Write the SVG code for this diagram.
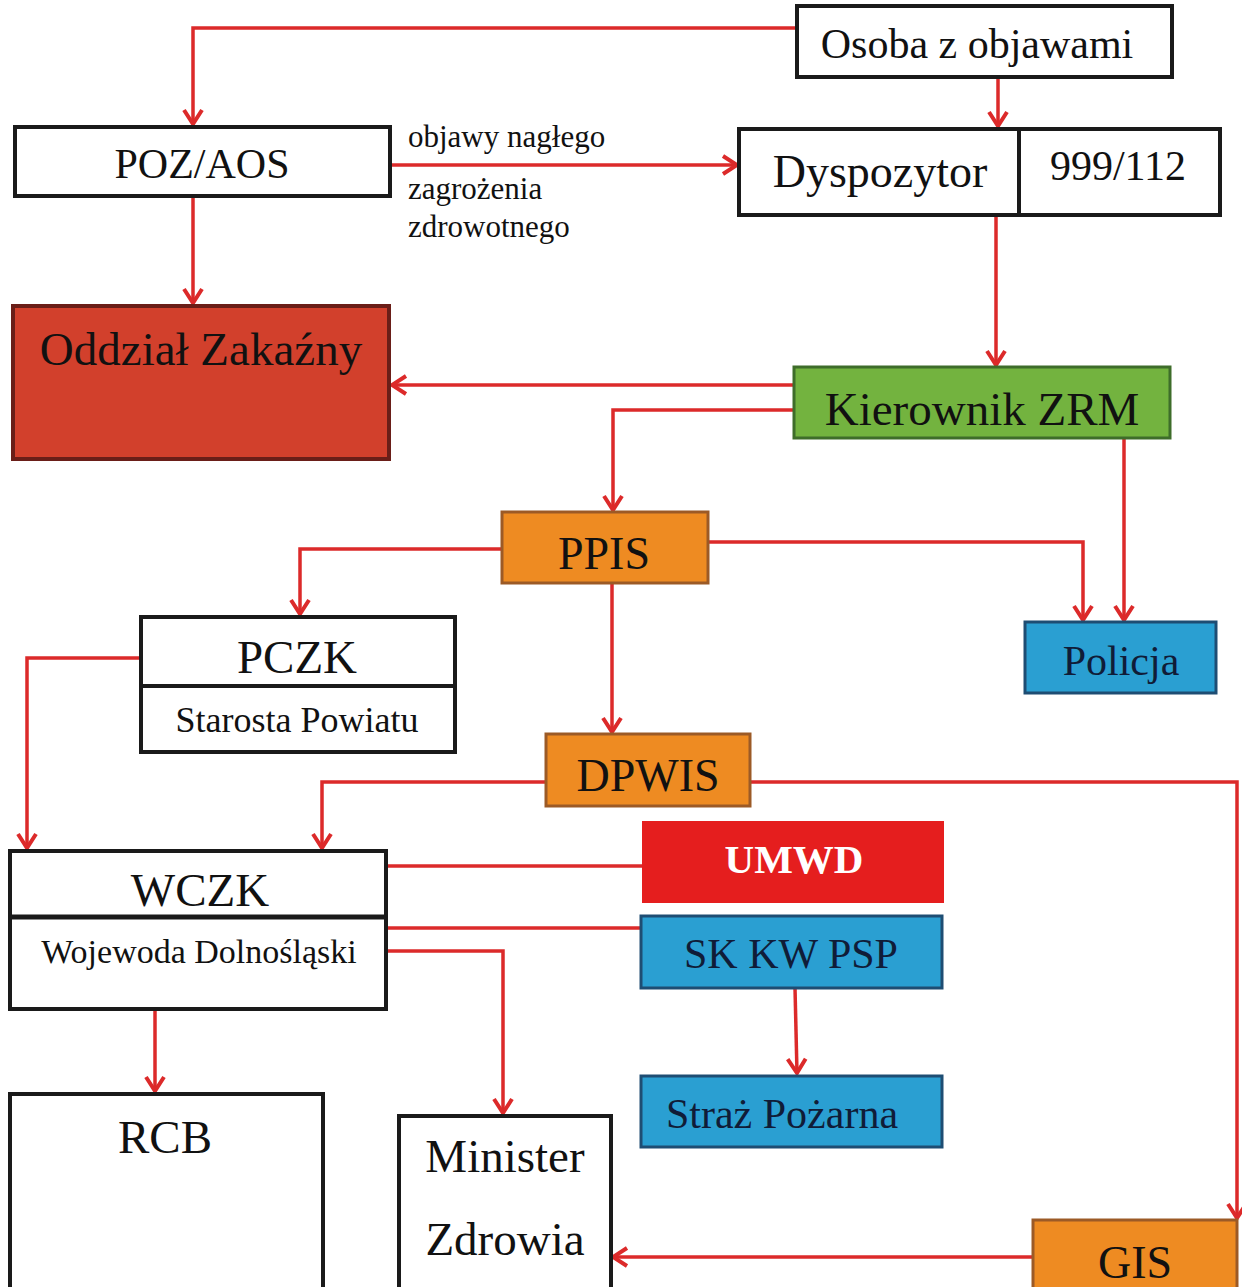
<svg xmlns="http://www.w3.org/2000/svg" width="1242" height="1287" viewBox="0 0 1242 1287">
<style>
.t{font-family:"Liberation Serif","Times New Roman",serif;fill:#111;text-anchor:middle}
.wb{fill:#fff;stroke:#1a1a1a;stroke-width:4}
.c{fill:none;stroke:#dc2a2a;stroke-width:3.5}
.orange{fill:#ee8b22;stroke:#9c5a26;stroke-width:3}
.blue{fill:#2a9fd2;stroke:#1e4d73;stroke-width:3}
.nv{fill:#101c38}
</style>
<defs>
<marker id="ah" markerUnits="userSpaceOnUse" viewBox="0 0 18 22" refX="16" refY="11" markerWidth="18" markerHeight="22" orient="auto">
<path d="M2,2 L16,11 L2,20" fill="none" stroke="#dc2a2a" stroke-width="4" stroke-linejoin="miter"/>
</marker>
</defs>
<rect width="1242" height="1287" fill="#fff"/>
<g id="connectors">
<path class="c" d="M797,28 H193 V124" marker-end="url(#ah)"/>
<path class="c" d="M998,77 V126" marker-end="url(#ah)"/>
<path class="c" d="M390,165 H737" marker-end="url(#ah)"/>
<path class="c" d="M193,196 V303" marker-end="url(#ah)"/>
<path class="c" d="M996,215 V365" marker-end="url(#ah)"/>
<path class="c" d="M793,385 H392" marker-end="url(#ah)"/>
<path class="c" d="M793,410 H613 V510" marker-end="url(#ah)"/>
<path class="c" d="M1124,438 V620" marker-end="url(#ah)"/>
<path class="c" d="M708,542 H1083 V620" marker-end="url(#ah)"/>
<path class="c" d="M502,549 H300 V614" marker-end="url(#ah)"/>
<path class="c" d="M612,583 V732" marker-end="url(#ah)"/>
<path class="c" d="M140,658 H27 V848" marker-end="url(#ah)"/>
<path class="c" d="M546,782 H322 V848" marker-end="url(#ah)"/>
<path class="c" d="M750,782 H1237 V1218" marker-end="url(#ah)"/>
<path class="c" d="M386,866 H642"/>
<path class="c" d="M386,928 H640"/>
<path class="c" d="M386,951 H503 V1113" marker-end="url(#ah)"/>
<path class="c" d="M155,1010 V1091" marker-end="url(#ah)"/>
<path class="c" d="M795,988 L797,1073" marker-end="url(#ah)"/>
<path class="c" d="M1033,1257 H613" marker-end="url(#ah)"/>
</g>
<g id="osoba"><rect class="wb" x="797" y="6" width="375" height="71"/><text class="t" x="977" y="58" font-size="42">Osoba z objawami</text></g>
<g id="poz"><rect class="wb" x="15" y="127" width="375" height="69"/><text class="t" x="202" y="178" font-size="42">POZ/AOS</text></g>
<g id="label"><text class="t" x="408" y="147" font-size="31" style="text-anchor:start">objawy nagłego</text><text class="t" x="408" y="199" font-size="31" style="text-anchor:start">zagrożenia</text><text class="t" x="408" y="237" font-size="31" style="text-anchor:start">zdrowotnego</text></g>
<g id="dyspozytor"><rect class="wb" x="739" y="129" width="280" height="86"/><rect class="wb" x="1019" y="129" width="201" height="86"/><text class="t" x="880" y="187" font-size="46">Dyspozytor</text><text class="t" x="1118" y="180" font-size="42">999/112</text></g>
<g id="oddzial"><rect x="13" y="306" width="376" height="153" fill="#d2402c" stroke="#6a1e18" stroke-width="4"/><text class="t" x="201" y="365" font-size="47">Oddział Zakaźny</text></g>
<g id="kierownik"><rect x="794" y="367" width="376" height="71" fill="#73b33f" stroke="#3e6d2a" stroke-width="3"/><text class="t" x="982" y="425" font-size="47">Kierownik ZRM</text></g>
<g id="ppis"><rect class="orange" x="502" y="512" width="206" height="71"/><text class="t" x="604" y="569" font-size="46">PPIS</text></g>
<g id="policja"><rect class="blue" x="1025" y="622" width="191" height="71"/><text class="t nv" x="1121" y="675" font-size="42">Policja</text></g>
<g id="pczk"><rect class="wb" x="141" y="617" width="314" height="135"/><line x1="141" y1="686" x2="455" y2="686" stroke="#1a1a1a" stroke-width="4"/><text class="t" x="297" y="673" font-size="47">PCZK</text><text class="t" x="297" y="732" font-size="36">Starosta Powiatu</text></g>
<g id="dpwis"><rect class="orange" x="546" y="734" width="204" height="72"/><text class="t" x="648" y="791" font-size="46">DPWIS</text></g>
<g id="wczk"><rect class="wb" x="10" y="851" width="376" height="158"/><line x1="10" y1="917" x2="386" y2="917" stroke="#1a1a1a" stroke-width="5"/><text class="t" x="200" y="906" font-size="47">WCZK</text><text class="t" x="199" y="963" font-size="34">Wojewoda Dolnośląski</text></g>
<g id="umwd"><rect x="642" y="821" width="302" height="82" fill="#e51e1e"/><text class="t" x="794" y="873" font-size="41" font-weight="bold" style="fill:#fff">UMWD</text></g>
<g id="skkwpsp"><rect class="blue" x="641" y="916" width="301" height="72"/><text class="t nv" x="791" y="968" font-size="42">SK KW PSP</text></g>
<g id="straz"><rect class="blue" x="641" y="1076" width="301" height="71"/><text class="t nv" x="782" y="1128" font-size="42">Straż Pożarna</text></g>
<g id="rcb"><rect class="wb" x="10" y="1094" width="313" height="200"/><text class="t" x="165" y="1153" font-size="47">RCB</text></g>
<g id="minister"><rect class="wb" x="399" y="1116" width="212" height="180"/><text class="t" x="505" y="1172" font-size="47">Minister</text><text class="t" x="505" y="1255" font-size="47">Zdrowia</text></g>
<g id="gis"><rect class="orange" x="1033" y="1220" width="204" height="80"/><text class="t" x="1135" y="1278" font-size="46">GIS</text></g>
</svg>
